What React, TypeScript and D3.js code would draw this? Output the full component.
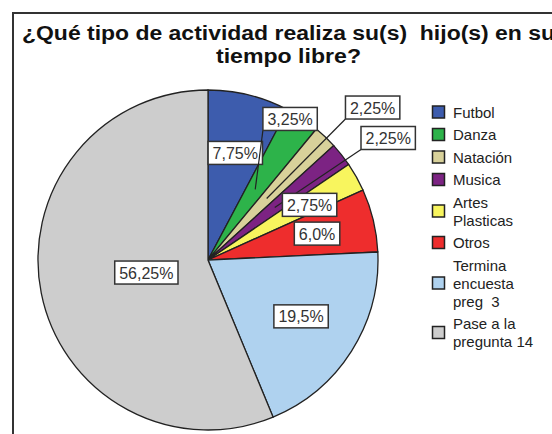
import React from "react";
import * as d3 from "d3";

const categories = ["Futbol", "Danza", "Natación", "Musica", "Artes Plasticas", "Otros", "Termina encuesta preg  3", "Pase a la pregunta 14"];
const legendLines = [["Futbol"], ["Danza"], ["Natación"], ["Musica"], ["Artes", "Plasticas"], ["Otros"], ["Termina", "encuesta", "preg \u00A03"], ["Pase a la", "pregunta 14"]];
const values = [7.75, 3.25, 2.25, 2.25, 2.75, 6.0, 19.5, 56.25];
const valueLabels = ["7,75%", "3,25%", "2,25%", "2,25%", "2,75%", "6,0%", "19,5%", "56,25%"];
const titleLines = ["¿Qué tipo de actividad realiza su(s) \u00A0hijo(s) en su", "tiempo libre?"];

const colors = ["#3D5CAD", "#2DB34A", "#D8D19A", "#7C2383", "#F8F55E", "#EE2D2D", "#AFD2EF", "#CDCDCD"];
// label placement: radius factor & angle (deg) relative to pie, leader flag
const labelLayout = [
  { rf: 0.65, ang: 14.3, leader: false },
  { rf: 0.96, ang: 30.2, leader: true },
  { rf: 1.32, ang: 47.2, leader: true },
  { rf: 1.28, ang: 55.9, leader: true },
  { rf: 0.68, ang: 61.5, leader: false },
  { rf: 0.66, ang: 76.4, leader: false },
  { rf: 0.64, ang: 121.2, leader: false },
  { rf: 0.37, ang: 258.5, leader: false },
];

const W = 552, H = 434;
const cx = 208, cy = 260, R = 170;
const labelFont = 16;
const boxH = 23;

function textWidth(t: string, font: string) {
  const c = document.createElement("canvas").getContext("2d")!;
  c.font = font;
  return c.measureText(t).width;
}

export default function App() {
  const pie = d3.pie<number>().sort(null).value((d) => d)(values);
  const arc = d3.arc<d3.PieArcDatum<number>>().innerRadius(0).outerRadius(R);
  const rad = (deg: number) => (deg * Math.PI) / 180;
  const polar = (r: number, deg: number): [number, number] => [cx + r * Math.sin(rad(deg)), cy - r * Math.cos(rad(deg))];

  const lineH = 18, gap = 4.5;
  let yCursor = 112 - 11.25;
  const legendItems = legendLines.map((lines, i) => {
    const h = lines.length * lineH + gap;
    const center = yCursor + h / 2;
    yCursor += h;
    return { lines, center, i };
  });

  const font = `${labelFont}px "Liberation Sans", Arial, sans-serif`;

  return (
    <svg width={W} height={H} style={{ position: "absolute", left: 0, top: 0, background: "#fff" }}>
      <line x1={12} y1={13} x2={W} y2={13} stroke="#333" strokeWidth={2} />
      <line x1={13} y1={12} x2={13} y2={H} stroke="#333" strokeWidth={2} />
      <g fontFamily='"Liberation Sans", Arial, sans-serif' fontWeight="bold" fontSize={20} fill="#111">
        <text x={22} y={40} textLength={533} lengthAdjust="spacingAndGlyphs">{titleLines[0]}</text>
        <text x={288.5} y={63} textAnchor="middle" textLength={145} lengthAdjust="spacingAndGlyphs">{titleLines[1]}</text>
      </g>
      <g transform={`translate(${cx},${cy})`}>
        {pie.map((p, i) => (
          <path key={i} d={arc(p) || ""} fill={colors[i]} stroke="#222" strokeWidth={1.3} />
        ))}
      </g>
      {pie.map((p, i) => {
        const L = labelLayout[i];
        const [lx, ly] = polar(L.rf * R, L.ang);
        const tw = textWidth(valueLabels[i], font);
        const bw = tw + 9;
        const mid = ((p.startAngle + p.endAngle) / 2) * 180 / Math.PI;
        const [tx, ty] = polar(0.5 * R, mid);
        return (
          <g key={i}>
            {L.leader && (
              <line x1={lx - bw / 2} y1={ly + boxH / 2} x2={tx} y2={ty} stroke="#222" strokeWidth={1.2} />
            )}
            <rect x={lx - bw / 2} y={ly - boxH / 2} width={bw} height={boxH} fill="#fff" stroke="#333" strokeWidth={1.5} />
            <text x={lx} y={ly + 6} textAnchor="middle" fontFamily='"Liberation Sans", Arial, sans-serif' fontSize={labelFont} fill="#333">
              {valueLabels[i]}
            </text>
          </g>
        );
      })}
      <g fontFamily='"Liberation Sans", Arial, sans-serif' fontSize={15} fill="#222">
        {legendItems.map(({ lines, center, i }) => (
          <g key={i}>
            <rect x={432.5} y={center - 6} width={12} height={12} fill={colors[i]} stroke="#222" strokeWidth={1.5} />
            {lines.map((t, j) => (
              <text key={j} x={453} y={center + (j - (lines.length - 1) / 2) * lineH + 5.5}>{t}</text>
            ))}
          </g>
        ))}
      </g>
    </svg>
  );
}
